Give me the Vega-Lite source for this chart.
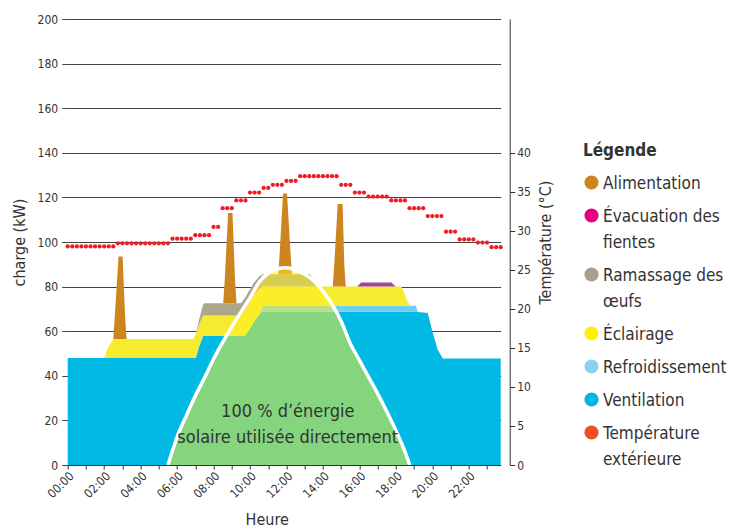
{
  "$schema": "https://vega.github.io/schema/vega-lite/v6.json",
  "width": 433,
  "height": 446,
  "autosize": {"type": "none"},
  "padding": {"left": 67.7, "top": 19, "right": 230.3, "bottom": 63},
  "background": "white",
  "config": {
    "view": {"stroke": null},
    "font": "DejaVu Sans Condensed",
    "text": {"font": "DejaVu Sans Condensed"},
    "axisX": {"labelOverlap": false, "labelBound": false, "labelFlush": false}
  },
  "datasets": {
    "charges": [
      {"h": 0, "ventilation": 48, "refroidissement": 0, "eclairage": 0, "ramassage": 0, "evacuation": 0, "alimentation": 0},
      {"h": 2.0, "ventilation": 48, "refroidissement": 0, "eclairage": 0, "ramassage": 0, "evacuation": 0, "alimentation": 0},
      {"h": 2.2, "ventilation": 48, "refroidissement": 0, "eclairage": 4.5, "ramassage": 0, "evacuation": 0, "alimentation": 0},
      {"h": 2.5, "ventilation": 48, "refroidissement": 0, "eclairage": 8.5, "ramassage": 0, "evacuation": 0, "alimentation": 0},
      {"h": 2.58, "ventilation": 48, "refroidissement": 0, "eclairage": 8.5, "ramassage": 0, "evacuation": 0, "alimentation": 10},
      {"h": 2.79, "ventilation": 48, "refroidissement": 0, "eclairage": 8.5, "ramassage": 0, "evacuation": 0, "alimentation": 37},
      {"h": 3.01, "ventilation": 48, "refroidissement": 0, "eclairage": 8.5, "ramassage": 0, "evacuation": 0, "alimentation": 37},
      {"h": 3.15, "ventilation": 48, "refroidissement": 0, "eclairage": 8.5, "ramassage": 0, "evacuation": 0, "alimentation": 10},
      {"h": 3.23, "ventilation": 48, "refroidissement": 0, "eclairage": 8.5, "ramassage": 0, "evacuation": 0, "alimentation": 0},
      {"h": 6.88, "ventilation": 48, "refroidissement": 0, "eclairage": 8.5, "ramassage": 0, "evacuation": 0, "alimentation": 0},
      {"h": 7.03, "ventilation": 48, "refroidissement": 0, "eclairage": 10.5, "ramassage": 0, "evacuation": 0, "alimentation": 0},
      {"h": 7.2, "ventilation": 53, "refroidissement": 0, "eclairage": 10, "ramassage": 2, "evacuation": 0, "alimentation": 0},
      {"h": 7.43, "ventilation": 58, "refroidissement": 0, "eclairage": 9, "ramassage": 5, "evacuation": 0, "alimentation": 0},
      {"h": 7.5, "ventilation": 58, "refroidissement": 0, "eclairage": 9, "ramassage": 5.5, "evacuation": 0, "alimentation": 0},
      {"h": 8.53, "ventilation": 58, "refroidissement": 0, "eclairage": 9, "ramassage": 5.5, "evacuation": 0, "alimentation": 0},
      {"h": 8.61, "ventilation": 58, "refroidissement": 0, "eclairage": 9, "ramassage": 5.5, "evacuation": 0, "alimentation": 10},
      {"h": 8.8, "ventilation": 58, "refroidissement": 0, "eclairage": 9, "ramassage": 5.5, "evacuation": 0, "alimentation": 40.5},
      {"h": 9.04, "ventilation": 58, "refroidissement": 0, "eclairage": 9, "ramassage": 5.5, "evacuation": 0, "alimentation": 40.5},
      {"h": 9.18, "ventilation": 58, "refroidissement": 0, "eclairage": 9, "ramassage": 5.5, "evacuation": 0, "alimentation": 10},
      {"h": 9.26, "ventilation": 58, "refroidissement": 0, "eclairage": 9, "ramassage": 5.5, "evacuation": 0, "alimentation": 0},
      {"h": 9.5, "ventilation": 58, "refroidissement": 0, "eclairage": 9, "ramassage": 5.5, "evacuation": 0, "alimentation": 0},
      {"h": 9.7, "ventilation": 58, "refroidissement": 0, "eclairage": 11, "ramassage": 5.5, "evacuation": 0, "alimentation": 0},
      {"h": 9.9, "ventilation": 60, "refroidissement": 0, "eclairage": 12, "ramassage": 5.5, "evacuation": 0, "alimentation": 0},
      {"h": 10.2, "ventilation": 64, "refroidissement": 0, "eclairage": 12, "ramassage": 5.5, "evacuation": 0, "alimentation": 0},
      {"h": 10.5, "ventilation": 67.5, "refroidissement": 0, "eclairage": 11.5, "ramassage": 5.5, "evacuation": 0, "alimentation": 0},
      {"h": 10.7, "ventilation": 68.7, "refroidissement": 2.7, "eclairage": 8.6, "ramassage": 5.5, "evacuation": 0, "alimentation": 0},
      {"h": 11.55, "ventilation": 68.7, "refroidissement": 2.7, "eclairage": 8.6, "ramassage": 5.5, "evacuation": 0, "alimentation": 0},
      {"h": 11.63, "ventilation": 68.7, "refroidissement": 2.7, "eclairage": 8.6, "ramassage": 5.5, "evacuation": 0, "alimentation": 10},
      {"h": 11.81, "ventilation": 68.7, "refroidissement": 2.7, "eclairage": 8.6, "ramassage": 5.5, "evacuation": 0, "alimentation": 36.3},
      {"h": 12.03, "ventilation": 68.7, "refroidissement": 2.7, "eclairage": 8.6, "ramassage": 5.5, "evacuation": 0, "alimentation": 36.3},
      {"h": 12.22, "ventilation": 68.7, "refroidissement": 2.7, "eclairage": 8.6, "ramassage": 5.5, "evacuation": 0, "alimentation": 10},
      {"h": 12.3, "ventilation": 68.7, "refroidissement": 2.7, "eclairage": 8.6, "ramassage": 5.5, "evacuation": 0, "alimentation": 0},
      {"h": 13.3, "ventilation": 68.7, "refroidissement": 2.7, "eclairage": 8.6, "ramassage": 5.5, "evacuation": 0, "alimentation": 0},
      {"h": 13.6, "ventilation": 68.7, "refroidissement": 2.7, "eclairage": 8.6, "ramassage": 0, "evacuation": 0, "alimentation": 0},
      {"h": 14.54, "ventilation": 68.7, "refroidissement": 2.7, "eclairage": 8.6, "ramassage": 0, "evacuation": 0, "alimentation": 0},
      {"h": 14.62, "ventilation": 68.7, "refroidissement": 2.7, "eclairage": 8.6, "ramassage": 0, "evacuation": 0, "alimentation": 10},
      {"h": 14.81, "ventilation": 68.7, "refroidissement": 2.7, "eclairage": 8.6, "ramassage": 0, "evacuation": 0, "alimentation": 37},
      {"h": 15.08, "ventilation": 68.7, "refroidissement": 2.7, "eclairage": 8.6, "ramassage": 0, "evacuation": 0, "alimentation": 37},
      {"h": 15.17, "ventilation": 68.7, "refroidissement": 2.7, "eclairage": 8.6, "ramassage": 0, "evacuation": 0, "alimentation": 10},
      {"h": 15.25, "ventilation": 68.7, "refroidissement": 2.7, "eclairage": 8.6, "ramassage": 0, "evacuation": 0, "alimentation": 0},
      {"h": 15.87, "ventilation": 68.7, "refroidissement": 2.7, "eclairage": 8.6, "ramassage": 0, "evacuation": 0, "alimentation": 0},
      {"h": 16.1, "ventilation": 68.7, "refroidissement": 2.7, "eclairage": 8.6, "ramassage": 0, "evacuation": 1.8, "alimentation": 0},
      {"h": 17.75, "ventilation": 68.7, "refroidissement": 2.7, "eclairage": 8.6, "ramassage": 0, "evacuation": 1.8, "alimentation": 0},
      {"h": 18.0, "ventilation": 68.7, "refroidissement": 2.7, "eclairage": 8.6, "ramassage": 0, "evacuation": 0, "alimentation": 0},
      {"h": 18.3, "ventilation": 68.7, "refroidissement": 2.7, "eclairage": 8.6, "ramassage": 0, "evacuation": 0, "alimentation": 0},
      {"h": 18.45, "ventilation": 68.7, "refroidissement": 2.7, "eclairage": 6, "ramassage": 0, "evacuation": 0, "alimentation": 0},
      {"h": 18.6, "ventilation": 68.7, "refroidissement": 2.7, "eclairage": 2.5, "ramassage": 0, "evacuation": 0, "alimentation": 0},
      {"h": 18.8, "ventilation": 68.7, "refroidissement": 2.7, "eclairage": 0, "ramassage": 0, "evacuation": 0, "alimentation": 0},
      {"h": 19.1, "ventilation": 68.7, "refroidissement": 2.7, "eclairage": 0, "ramassage": 0, "evacuation": 0, "alimentation": 0},
      {"h": 19.2, "ventilation": 68.6, "refroidissement": 0, "eclairage": 0, "ramassage": 0, "evacuation": 0, "alimentation": 0},
      {"h": 19.75, "ventilation": 68.2, "refroidissement": 0, "eclairage": 0, "ramassage": 0, "evacuation": 0, "alimentation": 0},
      {"h": 20.0, "ventilation": 60, "refroidissement": 0, "eclairage": 0, "ramassage": 0, "evacuation": 0, "alimentation": 0},
      {"h": 20.3, "ventilation": 51.6, "refroidissement": 0, "eclairage": 0, "ramassage": 0, "evacuation": 0, "alimentation": 0},
      {"h": 20.58, "ventilation": 47.8, "refroidissement": 0, "eclairage": 0, "ramassage": 0, "evacuation": 0, "alimentation": 0},
      {"h": 23.75, "ventilation": 47.8, "refroidissement": 0, "eclairage": 0, "ramassage": 0, "evacuation": 0, "alimentation": 0}
    ],
    "series": [
      {"key": "ventilation", "name": "Ventilation", "rank": 1},
      {"key": "refroidissement", "name": "Refroidissement", "rank": 2},
      {"key": "eclairage", "name": "Éclairage", "rank": 3},
      {"key": "ramassage", "name": "Ramassage des œufs", "rank": 4},
      {"key": "evacuation", "name": "Évacuation des fientes", "rank": 5},
      {"key": "alimentation", "name": "Alimentation", "rank": 6}
    ],
    "solaire": [
      {"h": 5.5, "kw": 0}, {"h": 6.0, "kw": 12.5}, {"h": 6.5, "kw": 22}, {"h": 7.0, "kw": 31},
      {"h": 7.5, "kw": 39}, {"h": 8.0, "kw": 47.5}, {"h": 8.5, "kw": 55}, {"h": 9.0, "kw": 62},
      {"h": 9.5, "kw": 68.5}, {"h": 10.0, "kw": 75}, {"h": 10.5, "kw": 82}, {"h": 11.0, "kw": 86},
      {"h": 11.5, "kw": 88}, {"h": 12.0, "kw": 88.5}, {"h": 12.5, "kw": 87.5}, {"h": 13.0, "kw": 85.5},
      {"h": 13.5, "kw": 82.5}, {"h": 14.0, "kw": 78}, {"h": 14.5, "kw": 72}, {"h": 15.0, "kw": 64.5},
      {"h": 15.5, "kw": 54.5}, {"h": 16.0, "kw": 47}, {"h": 16.5, "kw": 39.5}, {"h": 17.0, "kw": 32},
      {"h": 17.5, "kw": 24}, {"h": 18.0, "kw": 15.5}, {"h": 18.5, "kw": 6}, {"h": 18.76, "kw": 0}
    ],
    "texte": [
      {"h": 12.07, "kw": 23.8, "label": "100 % d’énergie\nsolaire utilisée directement"}
    ],
    "temperature": [
      {"h": 0, "temp": 28}, {"h": 0.25, "temp": 28}, {"h": 0.5, "temp": 28}, {"h": 0.75, "temp": 28},
      {"h": 1, "temp": 28}, {"h": 1.25, "temp": 28}, {"h": 1.5, "temp": 28}, {"h": 1.75, "temp": 28},
      {"h": 2, "temp": 28}, {"h": 2.25, "temp": 28}, {"h": 2.5, "temp": 28},
      {"h": 2.75, "temp": 28.4}, {"h": 3, "temp": 28.4}, {"h": 3.25, "temp": 28.4}, {"h": 3.5, "temp": 28.4},
      {"h": 3.75, "temp": 28.4}, {"h": 4, "temp": 28.4}, {"h": 4.25, "temp": 28.4}, {"h": 4.5, "temp": 28.4},
      {"h": 4.75, "temp": 28.4}, {"h": 5, "temp": 28.4}, {"h": 5.25, "temp": 28.4}, {"h": 5.5, "temp": 28.4},
      {"h": 5.75, "temp": 29}, {"h": 6, "temp": 29}, {"h": 6.25, "temp": 29}, {"h": 6.5, "temp": 29}, {"h": 6.75, "temp": 29},
      {"h": 7, "temp": 29.45}, {"h": 7.25, "temp": 29.45}, {"h": 7.5, "temp": 29.45}, {"h": 7.75, "temp": 29.45},
      {"h": 8, "temp": 30.5}, {"h": 8.25, "temp": 30.5},
      {"h": 8.5, "temp": 32.9}, {"h": 8.75, "temp": 32.9}, {"h": 9, "temp": 32.9},
      {"h": 9.25, "temp": 33.9}, {"h": 9.5, "temp": 33.9}, {"h": 9.75, "temp": 33.9},
      {"h": 10, "temp": 34.9}, {"h": 10.25, "temp": 34.9}, {"h": 10.5, "temp": 34.9},
      {"h": 10.75, "temp": 35.5}, {"h": 11, "temp": 35.5},
      {"h": 11.25, "temp": 35.9}, {"h": 11.5, "temp": 35.9}, {"h": 11.75, "temp": 35.9},
      {"h": 12, "temp": 36.4}, {"h": 12.25, "temp": 36.4}, {"h": 12.5, "temp": 36.4},
      {"h": 12.75, "temp": 37}, {"h": 13, "temp": 37}, {"h": 13.25, "temp": 37}, {"h": 13.5, "temp": 37},
      {"h": 13.75, "temp": 37}, {"h": 14, "temp": 37}, {"h": 14.25, "temp": 37}, {"h": 14.5, "temp": 37}, {"h": 14.75, "temp": 37},
      {"h": 15, "temp": 35.9}, {"h": 15.25, "temp": 35.9}, {"h": 15.5, "temp": 35.9},
      {"h": 15.75, "temp": 34.9}, {"h": 16, "temp": 34.9}, {"h": 16.25, "temp": 34.9},
      {"h": 16.5, "temp": 34.4}, {"h": 16.75, "temp": 34.4}, {"h": 17, "temp": 34.4}, {"h": 17.25, "temp": 34.4}, {"h": 17.5, "temp": 34.4},
      {"h": 17.75, "temp": 33.9}, {"h": 18, "temp": 33.9}, {"h": 18.25, "temp": 33.9}, {"h": 18.5, "temp": 33.9},
      {"h": 18.75, "temp": 32.9}, {"h": 19, "temp": 32.9}, {"h": 19.25, "temp": 32.9}, {"h": 19.5, "temp": 32.9},
      {"h": 19.75, "temp": 31.9}, {"h": 20, "temp": 31.9}, {"h": 20.25, "temp": 31.9}, {"h": 20.5, "temp": 31.9},
      {"h": 20.75, "temp": 29.9}, {"h": 21, "temp": 29.9}, {"h": 21.25, "temp": 29.9},
      {"h": 21.5, "temp": 28.9}, {"h": 21.75, "temp": 28.9}, {"h": 22, "temp": 28.9}, {"h": 22.25, "temp": 28.9},
      {"h": 22.5, "temp": 28.5}, {"h": 22.75, "temp": 28.5}, {"h": 23, "temp": 28.5},
      {"h": 23.25, "temp": 27.9}, {"h": 23.5, "temp": 27.9}, {"h": 23.75, "temp": 27.9}
    ],
    "legende": [
      {"h": -5, "name": "Alimentation"},
      {"h": -5, "name": "Évacuation des fientes"},
      {"h": -5, "name": "Ramassage des œufs"},
      {"h": -5, "name": "Éclairage"},
      {"h": -5, "name": "Refroidissement"},
      {"h": -5, "name": "Ventilation"},
      {"h": -5, "name": "Température extérieure"}
    ]
  },
  "layer": [
    {
      "layer": [
        {
          "data": {"name": "charges"},
          "transform": [
            {"fold": ["ventilation", "refroidissement", "eclairage", "ramassage", "evacuation", "alimentation"], "as": ["key", "kw"]},
            {"lookup": "key", "from": {"data": {"name": "series"}, "key": "key", "fields": ["name", "rank"]}}
          ],
          "mark": {"type": "area", "interpolate": "linear"},
          "encoding": {
            "x": {
              "field": "h", "type": "quantitative",
              "scale": {"domain": [0, 23.75], "nice": false, "zero": false},
              "axis": {
                "title": "Heure",
                "values": [0,1,2,3,4,5,6,7,8,9,10,11,12,13,14,15,16,17,18,19,20,21,22,23],
                "tickCount": 30,
                "labelExpr": "datum.value % 2 == 0 ? (datum.value < 10 ? '0' : '') + datum.value + ':00' : ''",
                "labelAngle": -45, "labelAlign": "right", "labelBaseline": "top",
                "labelFontSize": 12, "labelColor": "#333333", "labelPadding": 1,
                "labelOverlap": false, "labelBound": false, "labelFlush": false,
                "tickSize": 4, "tickColor": "#333333", "domainColor": "#333333",
                "grid": false, "zindex": 1,
                "titleFontSize": 16, "titleFontWeight": "normal", "titleColor": "#333333",
                "titleX": 199, "titleY": 54, "titleBaseline": "middle", "titleAlign": "center"
              }
            },
            "y": {
              "field": "kw", "type": "quantitative", "stack": "zero",
              "scale": {"domain": [0, 200], "nice": false},
              "axis": {
                "title": "charge (kW)",
                "values": [0,20,40,60,80,100,120,140,160,180,200],
                "tickCount": 12,
                "domain": false, "ticks": true, "tickSize": 6, "tickColor": "#444444",
                "grid": true, "gridColor": "#444444", "gridWidth": 1,
                "labelFontSize": 12, "labelColor": "#333333", "labelPadding": 4,
                "titleFontSize": 16, "titleFontWeight": "normal", "titleColor": "#333333",
                "titleX": -47.7, "titleBaseline": "middle"
              }
            },
            "color": {
              "field": "name", "type": "nominal",
              "scale": {
                "domain": ["Ventilation", "Refroidissement", "Éclairage", "Ramassage des œufs", "Évacuation des fientes", "Alimentation"],
                "range": ["#00b9e4", "#72cdf2", "#f6eb2f", "#aca68b", "#a4449c", "#cd8520"]
              },
              "legend": null
            },
            "order": {"field": "rank", "type": "quantitative"}
          }
        },
        {
          "data": {"name": "solaire"},
          "mark": {"type": "area", "interpolate": "monotone", "color": "#fff022", "opacity": 0.52},
          "encoding": {
            "x": {"field": "h", "type": "quantitative"},
            "y": {"field": "kw", "type": "quantitative"}
          }
        },
        {
          "data": {"name": "solaire"},
          "mark": {"type": "line", "interpolate": "monotone", "color": "white", "strokeWidth": 3.5},
          "encoding": {
            "x": {"field": "h", "type": "quantitative"},
            "y": {"field": "kw", "type": "quantitative"}
          }
        },
        {
          "data": {"name": "texte"},
          "mark": {"type": "text", "fontSize": 18, "color": "#333333", "align": "center", "baseline": "middle", "lineBreak": "\n", "lineHeight": 26},
          "encoding": {
            "x": {"field": "h", "type": "quantitative"},
            "y": {"field": "kw", "type": "quantitative"},
            "text": {"field": "label"}
          }
        }
      ]
    },
    {
      "data": {"name": "temperature"},
      "mark": {"type": "circle", "size": 18, "color": "#ee1c24", "opacity": 1},
      "encoding": {
        "x": {"field": "h", "type": "quantitative"},
        "y": {
          "field": "temp", "type": "quantitative",
          "scale": {"domain": [0, 57.142857], "nice": false},
          "axis": {
            "orient": "right", "title": "Température (°C)",
            "values": [0,5,10,15,20,25,30,35,40],
            "tickCount": 12,
            "offset": 9, "domain": true, "domainColor": "#333333",
            "ticks": true, "tickSize": 5, "tickColor": "#333333",
            "grid": false, "labelFontSize": 12, "labelColor": "#333333", "labelPadding": 2,
            "titleFontSize": 16, "titleFontWeight": "normal", "titleColor": "#333333",
            "titleAngle": -90, "titleX": 35.8, "titleBaseline": "middle"
          }
        }
      }
    },
    {
      "data": {"name": "legende"},
      "mark": {"type": "circle", "clip": true, "opacity": 1},
      "encoding": {
        "x": {"field": "h", "type": "quantitative"},
        "color": {
          "field": "name", "type": "nominal",
          "scale": {
            "domain": ["Alimentation", "Évacuation des fientes", "Ramassage des œufs", "Éclairage", "Refroidissement", "Ventilation", "Température extérieure"],
            "range": ["#cd8521", "#e5007e", "#a89f8e", "#fff200", "#8fd0f0", "#00b6e8", "#ec5024"]
          },
          "legend": {
            "title": "Légende",
            "orient": "none", "legendX": 515.3, "legendY": 124,
            "padding": 0,
            "titleFontSize": 17, "titleFontWeight": "bold", "titleColor": "#333333", "titlePadding": 14,
            "labelFontSize": 17, "labelColor": "#333333", "labelOffset": 3, "labelLimit": 300,
            "labelBaseline": "alphabetic",
            "labelExpr": "datum.label == 'Évacuation des fientes' ? ['Évacuation des', 'fientes'] : datum.label == 'Ramassage des œufs' ? ['Ramassage des', 'œufs'] : datum.label == 'Température extérieure' ? ['Température', 'extérieure'] : datum.label",
            "symbolType": "circle", "symbolSize": 200, "symbolStrokeWidth": 0, "symbolOpacity": 1,
            "rowPadding": 15,
            "encode": {"labels": {"update": {"dy": {"value": 6.5}, "lineHeight": {"value": 25.5}}}}
          }
        }
      }
    }
  ],
  "resolve": {"scale": {"y": "independent", "color": "independent"}}
}
